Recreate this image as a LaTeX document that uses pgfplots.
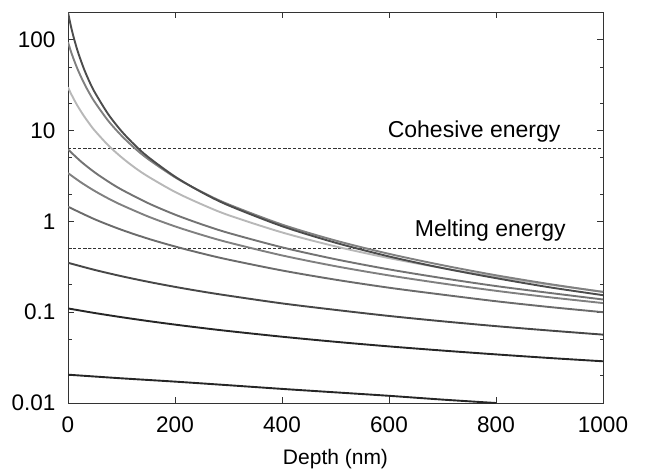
\documentclass[border=0pt]{standalone}
\usepackage{fontspec}
\setmainfont{Liberation Sans}
\usepackage{pgfplots}
\pgfplotsset{compat=1.18}

\begin{document}
\begin{tikzpicture}
\begin{axis}[
    scale only axis,
    width=535pt, height=391pt,
    ymode=log,
    xmin=0, xmax=1000, ymin=0.01, ymax=202,
    xtick={0,200,400,600,800,1000},
    xticklabels={0,200,400,600,800,1000},
    ytick={0.01,0.1,1,10,100},
    yticklabels={0.01,0.1,1,10,100},
    minor ytick={0.02,0.05,0.2,0.5,2,5,20,50,200},
    tick align=inside,
    major tick length=6pt, minor tick length=3.5pt,
    tick style={black!80, line width=0.8pt},
    axis line style={black!80, line width=0.9pt},
    /pgf/number format/assume math mode=true,
    tick label style={font=\fontsize{22.5}{26}\selectfont},
    xticklabel style={yshift=-10pt},
    yticklabel style={xshift=-9pt},
    xlabel={Depth (nm)},
    xlabel style={font=\fontsize{21}{24}\selectfont, at={(axis description cs:0.5,0)}, anchor=center, yshift=-56pt},
    every axis plot/.append style={line width=1.9pt, smooth},
]
% cohesive and melting energy levels
\addplot[black!80, line width=0.7pt, dash pattern=on 3pt off 2pt, smooth=false] coordinates {(0,6.4) (1000,6.4)};
\addplot[black!80, line width=0.7pt, dash pattern=on 3pt off 2pt, smooth=false] coordinates {(0,0.5) (1000,0.5)};

% curve 9
\addplot[black!85] coordinates {(0,0.0205) (100,0.0187) (200,0.0172) (300,0.0157) (400,0.0143) (500,0.0131) (600,0.0120) (700,0.0109) (800,0.0100)};
% curve 8
\addplot[black!85] coordinates {(0,0.110) (50,0.0979) (100,0.0881) (150,0.0799) (200,0.0730) (250,0.0671) (300,0.0620) (400,0.0537) (500,0.0472) (600,0.0420) (700,0.0378) (800,0.0343) (900,0.0313) (1000,0.0288)};
% curve 7
\addplot[black!72] coordinates {(0,0.350) (50,0.292) (100,0.249) (150,0.216) (200,0.190) (250,0.169) (300,0.152) (400,0.125) (500,0.106) (600,0.0909) (700,0.0794) (800,0.0702) (900,0.0628) (1000,0.0566)};
% curve 6
\addplot[black!58] coordinates {(0,1.45) (50,1.054) (100,0.808) (150,0.644) (200,0.529) (250,0.444) (300,0.379) (400,0.288) (500,0.228) (600,0.186) (700,0.156) (800,0.132) (900,0.114) (1000,0.100)};
% curve 5
\addplot[black!50] coordinates {(0,3.40) (25,2.67) (50,2.16) (75,1.79) (100,1.515) (150,1.130) (200,0.881) (250,0.710) (300,0.586) (400,0.422) (500,0.321) (600,0.254) (700,0.207) (800,0.172) (900,0.146) (1000,0.126)};
% curve 4
\addplot[black!55] coordinates {(0,6.20) (25,4.52) (50,3.46) (75,2.75) (100,2.24) (150,1.585) (200,1.187) (250,0.927) (300,0.746) (400,0.518) (500,0.383) (600,0.296) (700,0.237) (800,0.194) (900,0.163) (1000,0.138)};
% curve 3
\addplot[black!28] coordinates {(0,30.0) (5,25.9) (10,22.7) (15,20.0) (20,17.8) (30,14.4) (40,11.9) (50,9.99) (75,6.90) (100,5.08) (125,3.90) (150,3.11) (200,2.11) (250,1.54) (300,1.17) (400,0.756) (500,0.530) (600,0.394) (700,0.306) (800,0.245) (900,0.201) (1000,0.168)};
% curve 2
\addplot[black!50] coordinates {(0,94.0) (5,75.8) (10,62.4) (15,52.3) (20,44.4) (30,33.2) (40,25.8) (50,20.6) (75,12.85) (100,8.78) (125,6.37) (150,4.84) (200,3.06) (250,2.11) (300,1.54) (400,0.923) (500,0.615) (600,0.439) (700,0.329) (800,0.255) (900,0.204) (1000,0.167)};
% curve 1
\addplot[black!70] coordinates {(0,200) (5,144.8) (10,109.6) (15,85.9) (20,69.0) (30,47.5) (40,34.6) (50,26.4) (75,15.2) (100,9.84) (125,6.90) (150,5.10) (200,3.11) (250,2.09) (300,1.50) (400,0.885) (500,0.582) (600,0.411) (700,0.306) (800,0.237) (900,0.188) (1000,0.154)};

\node[anchor=east, font=\fontsize{23}{27}\selectfont] at (axis cs:927,9.8) {Cohesive energy};
\node[anchor=east, font=\fontsize{23}{27}\selectfont] at (axis cs:937,0.79) {Melting energy};
\end{axis}
\path (current axis.south west) ++(-68pt,-73pt) rectangle ++(645pt,476pt);
\end{tikzpicture}
\end{document}
